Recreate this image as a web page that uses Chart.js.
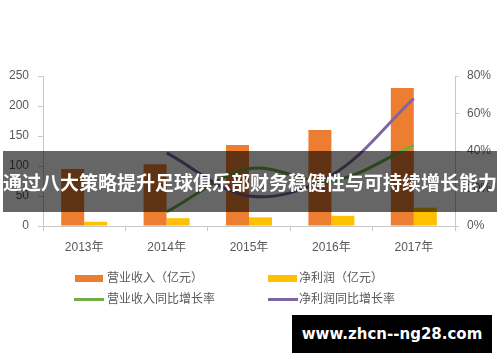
<!DOCTYPE html>
<html>
<head>
<meta charset="utf-8">
<script src="https://cdn.jsdelivr.net/npm/chart.js@4/dist/chart.umd.min.js"></script>
<style>
  html, body { margin: 0; padding: 0; background: #fff; }
  #wrap { position: relative; width: 500px; height: 362px; overflow: hidden; background: #fff; }
  #c { position: absolute; left: 0; top: 0; }
  .legend { position: absolute; font-family: "Liberation Sans", "Noto Sans CJK SC", sans-serif; font-size: 12px; color: #595959; line-height: 14px; white-space: nowrap; }
  .sw { position: absolute; }
  #banner { position: absolute; left: 3px; top: 151px; width: 494px; height: 61px; background: rgba(0,0,0,0.6);
            color: #fff; font-family: "Noto Sans CJK SC", sans-serif; font-weight: bold; font-size: 19px;
            line-height: 61px; text-align: center; white-space: nowrap; letter-spacing: 0px; }
  #wm { position: absolute; left: 292px; top: 315px; width: 200px; height: 38px; background: #000; color: #fff;
        font-family: "DejaVu Sans", sans-serif; font-weight: bold; font-size: 15px; line-height: 38px; text-align: center; white-space: nowrap; }
</style>
</head>
<body>
<div id="wrap">
  <canvas id="c" width="500" height="362"></canvas>
  <div class="sw" style="left:75px; top:275px; width:28px; height:7px; background:#ED7D31;"></div>
  <div class="legend" style="left:107px; top:271px;">营业收入（亿元）</div>
  <div class="sw" style="left:268px; top:275px; width:29px; height:7px; background:#FFC000;"></div>
  <div class="legend" style="left:299px; top:271px;">净利润（亿元）</div>
  <div class="sw" style="left:74px; top:298px; width:30px; height:3px; background:#70AD47;"></div>
  <div class="legend" style="left:107px; top:292px;">营业收入同比增长率</div>
  <div class="sw" style="left:268px; top:298px; width:30px; height:3px; background:#8064A2;"></div>
  <div class="legend" style="left:299px; top:292px;">净利润同比增长率</div>
  <div id="banner">通过八大策略提升足球俱乐部财务稳健性与可持续增长能力</div>
  <div id="wm">www.zhcn--ng28.com</div>
</div>
<script>
const categories = ["2013年", "2014年", "2015年", "2016年", "2017年"];
const revenue = [95, 103, 135, 160, 230];
const netProfit = [7, 13, 14.5, 17, 30.5];
const revenueGrowth = [null, 7.5, 30.5, 24, 43];
const profitGrowth = [null, 39, 16, 27, 68];
const leftTicks = [0, 50, 100, 150, 200, 250];
const rightTicks = [0, 20, 40, 60, 80];

const tickFont = { family: "'Liberation Sans', 'Noto Sans CJK SC', sans-serif", size: 12 };
const axisColor = '#c8c8c8';

new Chart(document.getElementById('c'), {
  type: 'bar',
  data: {
    labels: categories,
    datasets: [
      { type: 'line', label: '营业收入同比增长率', data: revenueGrowth, yAxisID: 'y1', borderColor: '#70AD47', borderWidth: 3, pointRadius: 0, tension: 0.35, fill: false, order: 0 },
      { type: 'line', label: '净利润同比增长率', data: profitGrowth, yAxisID: 'y1', borderColor: '#8064A2', borderWidth: 3, pointRadius: 0, tension: 0.35, fill: false, order: 0 },
      { label: '营业收入（亿元）', data: revenue, backgroundColor: '#ED7D31', yAxisID: 'y', categoryPercentage: 0.558, barPercentage: 1, order: 1 },
      { label: '净利润（亿元）', data: netProfit, backgroundColor: '#FFC000', yAxisID: 'y', categoryPercentage: 0.558, barPercentage: 1, order: 1 }
    ]
  },
  options: {
    responsive: false,
    animation: false,
    layout: { padding: { top: 76, bottom: 106, left: 0, right: 0 } },
    plugins: { legend: { display: false }, tooltip: { enabled: false } },
    scales: {
      x: {
        offset: true,
        grid: { display: true, offset: true, drawOnChartArea: false, drawTicks: true, tickLength: 5, color: axisColor },
        border: { display: true, color: axisColor },
        ticks: { font: tickFont, color: '#595959', padding: 9, maxRotation: 0 },
        afterFit(s) { s.height = 30; }
      },
      y: {
        position: 'left', min: 0, max: 250,
        afterBuildTicks(s) { s.ticks = leftTicks.map(v => ({ value: v })); },
        grid: { drawOnChartArea: false, drawTicks: true, tickLength: 5, color: axisColor },
        border: { display: true, color: axisColor },
        ticks: { font: tickFont, color: '#595959', padding: 9 },
        afterFit(s) { s.width = 43; }
      },
      y1: {
        position: 'right', min: 0, max: 80,
        afterBuildTicks(s) { s.ticks = rightTicks.map(v => ({ value: v })); },
        grid: { drawOnChartArea: false, drawTicks: true, tickLength: 4, color: axisColor },
        border: { display: true, color: axisColor },
        ticks: { font: tickFont, color: '#595959', padding: 8, callback: v => v + '%' },
        afterFit(s) { s.width = 45; }
      }
    }
  }
});
</script>
</body>
</html>
